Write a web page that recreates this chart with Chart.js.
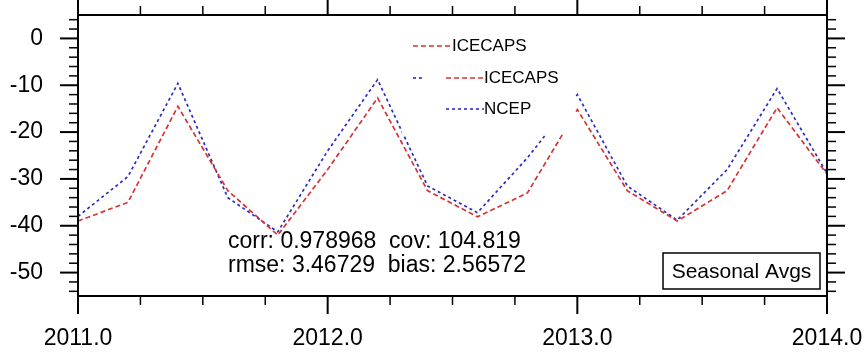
<!DOCTYPE html>
<html lang="en">
<head>
<meta charset="UTF-8">
<title>Seasonal Avgs</title>
<style>
  body { margin: 0; background: #fff; }
  #chart { display: block; }
</style>
</head>
<body>
<canvas id="chart" width="866" height="354"></canvas>
<script src="https://cdn.jsdelivr.net/npm/chart.js"></script>
<script>
// fractional years of each seasonal mean
const years   = [2011.0, 2011.2, 2011.4, 2011.6, 2011.8, 2012.0, 2012.2, 2012.4,
                 2012.6, 2012.8, 2013.0, 2013.2, 2013.4, 2013.6, 2013.8, 2014.0];
const icecaps = [-39.0, -35.0, -14.5, -32.5, -42.0, -28.0, -12.7, -32.5,
                 -38.1, -33.0, -15.2, -32.5, -39.0, -32.5, -14.8, -29.0];
const ncep    = [-38.0, -29.5,  -9.6, -34.0, -41.3, -24.0,  -8.8, -31.5,
                 -37.2, -25.5, -12.0, -31.5, -38.8, -28.0, -10.7, -28.8];

const xTicks = [2011, 2012, 2013, 2014];
const yTicks = [0, -10, -20, -30, -40, -50];
const statLines = ['corr: 0.978968  cov: 104.819', 'rmse: 3.46729  bias: 2.56572'];
const boxTitle = 'Seasonal Avgs';

const RED = 'rgb(214,52,52)';
const BLUE = 'rgb(44,44,196)';
const FONT = '"Liberation Sans", Arial, Helvetica, sans-serif';
const RED_DASH = [5, 3];
const BLUE_DASH = [3, 3];

function seg(ctx, x1, y1, x2, y2) {
  ctx.beginPath();
  ctx.moveTo(x1, y1);
  ctx.lineTo(x2, y2);
  ctx.stroke();
}

// keep the plot box fixed: no extra room for overhanging tick labels
function noPad(s) {
  s.paddingLeft = s.paddingRight = s.paddingTop = s.paddingBottom = 0;
}

// border box plus outward major/minor ticks on all four sides
const frame = {
  id: 'frame',
  afterDraw(chart) {
    const { ctx, chartArea: a, scales: { x, y } } = chart;
    ctx.save();
    ctx.strokeStyle = '#000';
    ctx.lineCap = 'butt';
    for (let v = x.min; v <= x.max + 1e-6; v += 0.25) {
      const px = x.getPixelForValue(v);
      const major = xTicks.some(t => Math.abs(t - v) < 1e-6);
      const len = major ? 18 : 9;
      ctx.lineWidth = major ? 2 : 1.5;
      seg(ctx, px, a.bottom, px, a.bottom + len);
      seg(ctx, px, a.top, px, a.top - len);
    }
    for (let v = Math.ceil(y.min / 2) * 2; v <= y.max; v += 2) {
      const py = y.getPixelForValue(v);
      const major = yTicks.includes(v);
      const len = major ? 18 : 9;
      ctx.lineWidth = major ? 2 : 1.5;
      seg(ctx, a.left - len, py, a.left, py);
      seg(ctx, a.right, py, a.right + len, py);
    }
    ctx.lineWidth = 2;
    ctx.strokeRect(a.left, a.top, a.right - a.left, a.bottom - a.top);
    ctx.restore();
  }
};

// legend panel, statistics text and the title box
const notes = {
  id: 'notes',
  afterDatasetsDraw(chart) {
    const { ctx } = chart;
    ctx.save();

    // legend panel (opaque, hides the lines behind it)
    ctx.fillStyle = '#fff';
    ctx.fillRect(402, 26, 173, 108);
    ctx.lineWidth = 1.6;
    ctx.font = '17px ' + FONT;
    ctx.textBaseline = 'middle';
    ctx.textAlign = 'left';

    ctx.strokeStyle = RED; ctx.setLineDash(RED_DASH);
    seg(ctx, 413, 46, 452, 46);
    ctx.fillStyle = '#000';
    ctx.fillText('ICECAPS', 452, 46);

    ctx.strokeStyle = BLUE; ctx.setLineDash(BLUE_DASH);
    seg(ctx, 413, 78, 423, 78);
    ctx.strokeStyle = RED; ctx.setLineDash(RED_DASH);
    seg(ctx, 446, 78, 484, 78);
    ctx.fillText('ICECAPS', 484, 78);

    ctx.strokeStyle = BLUE; ctx.setLineDash(BLUE_DASH);
    seg(ctx, 446, 109, 484, 109);
    ctx.fillText('NCEP', 484, 109);
    ctx.setLineDash([]);

    // statistics
    ctx.font = '23px ' + FONT;
    ctx.textBaseline = 'alphabetic';
    ctx.fillText(statLines[0], 228, 248);
    ctx.fillText(statLines[1], 228, 272);

    // title box, lower right
    ctx.fillStyle = '#fff';
    ctx.fillRect(663, 253, 157, 36);
    ctx.strokeStyle = '#000';
    ctx.lineWidth = 1.5;
    ctx.strokeRect(663, 253, 157, 36);
    ctx.fillStyle = '#000';
    ctx.font = '21px ' + FONT;
    ctx.textAlign = 'center';
    ctx.textBaseline = 'middle';
    ctx.fillText(boxTitle, 741.5, 272);
    ctx.restore();
  }
};

const points = vals => years.map((x, i) => ({ x, y: vals[i] }));

new Chart(document.getElementById('chart'), {
  type: 'line',
  data: {
    datasets: [
      {
        label: 'ICECAPS',
        data: points(icecaps),
        borderColor: RED,
        borderWidth: 1.7,
        borderDash: RED_DASH,
        pointRadius: 0,
        tension: 0,
        fill: false
      },
      {
        label: 'NCEP',
        data: points(ncep),
        borderColor: BLUE,
        borderWidth: 1.7,
        borderDash: BLUE_DASH,
        pointRadius: 0,
        tension: 0,
        fill: false
      }
    ]
  },
  options: {
    responsive: false,
    animation: false,
    layout: { padding: { top: 15, right: 39, left: 0, bottom: 0 } },
    plugins: { legend: { display: false }, tooltip: { enabled: false } },
    scales: {
      x: {
        type: 'linear',
        min: 2011,
        max: 2014,
        afterBuildTicks: s => { s.ticks = xTicks.map(v => ({ value: v })); },
        afterFit: s => { s.height = 58; noPad(s); },
        grid: { display: false, drawTicks: false },
        border: { display: false },
        ticks: {
          color: '#000',
          font: { family: FONT, size: 23 },
          padding: 29,
          maxRotation: 0,
          callback: v => v.toFixed(1)
        }
      },
      y: {
        min: -55,
        max: 5,
        afterBuildTicks: s => { s.ticks = yTicks.map(v => ({ value: v })); },
        afterFit: s => { s.width = 78; noPad(s); },
        grid: { display: false, drawTicks: false },
        border: { display: false },
        ticks: {
          color: '#000',
          font: { family: FONT, size: 23 },
          padding: 35,
          callback: v => String(v)
        }
      }
    }
  },
  plugins: [notes, frame]
});
</script>
</body>
</html>
